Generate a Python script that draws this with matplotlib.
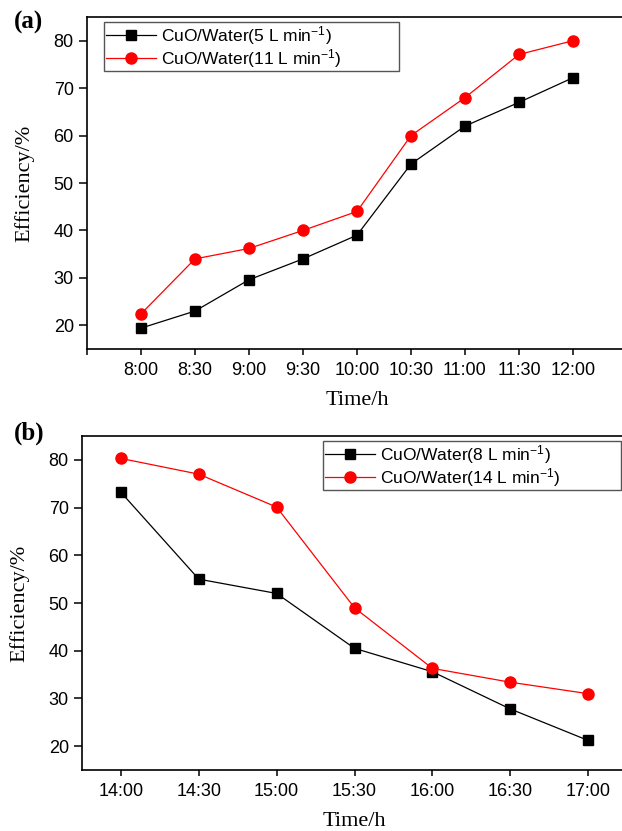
import numpy as np
import matplotlib.pyplot as plt

plt.rcParams['font.family'] = ['Liberation Sans', 'DejaVu Sans']
plt.rcParams['mathtext.default'] = 'regular'

# panel (a): morning
times_a = ["8:00", "8:30", "9:00", "9:30", "10:00", "10:30", "11:00", "11:30", "12:00"]
eff_5 = [19.4, 23.0, 29.6, 34.0, 39.0, 54.0, 62.0, 67.0, 72.2]
eff_11 = [22.4, 34.0, 36.2, 40.0, 44.0, 60.0, 68.0, 77.1, 80.0]

# panel (b): afternoon
times_b = ["14:00", "14:30", "15:00", "15:30", "16:00", "16:30", "17:00"]
eff_8 = [73.2, 55.0, 52.0, 40.5, 35.6, 27.8, 21.2]
eff_14 = [80.3, 77.0, 70.1, 49.0, 36.3, 33.4, 31.0]

W, H = 622, 831
fig = plt.figure(figsize=(W / 100, H / 100), dpi=100)

def box(l, t, r, b):
    return [l / W, 1 - b / H, (r - l) / W, (b - t) / H]

serif = ['Liberation Serif', 'DejaVu Serif']

def style(ax):
    for s in ax.spines.values():
        s.set_linewidth(1.2)
    ax.tick_params(axis='y', direction='out', length=5.5, width=1.1, pad=4, labelsize=13)
    ax.tick_params(axis='x', direction='out', length=4, width=1.1, pad=5, labelsize=13)
    ax.set_ylim(15, 85)
    ax.set_yticks([20, 30, 40, 50, 60, 70, 80])
    ax.set_ylabel("Efficiency/%", family=serif, fontsize=16, labelpad=14)
    ax.set_xlabel("Time/h", family=serif, fontsize=16, labelpad=9)

leg_kw = dict(loc='upper left', mode='expand', fancybox=False, edgecolor='#555555',
              framealpha=1, fontsize=12.5, handlelength=2.9, borderpad=0.1,
              labelspacing=0.0, handletextpad=0.3, borderaxespad=0)

# (a)
ax1 = fig.add_axes(box(87, 17, 627, 349))
xa = np.arange(len(times_a))
ax1.plot(xa, eff_5, color='black', lw=0.9, marker='s', ms=7.2, label="CuO/Water(5 L min$^{-1}$)")
ax1.plot(xa, eff_11, color='red', lw=0.9, marker='o', ms=8, label="CuO/Water(11 L min$^{-1}$)")
ax1.set_xlim(-1, 9)
ax1.set_xticks(np.arange(-1, 10))
ax1.set_xticklabels([""] + times_a + [""])
style(ax1)
ax1.legend(bbox_to_anchor=((104 - 87) / 540, (349 - 67) / 332, 295 / 540, 45 / 332), **leg_kw)
fig.text(14 / W, 1 - 22 / H, "(a)", family=serif, fontsize=18, fontweight='bold', va='center')

# (b)
ax2 = fig.add_axes(box(82, 436, 627, 770))
xb = np.arange(len(times_b))
ax2.plot(xb, eff_8, color='black', lw=0.9, marker='s', ms=7.2, label="CuO/Water(8 L min$^{-1}$)")
ax2.plot(xb, eff_14, color='red', lw=0.9, marker='o', ms=8, label="CuO/Water(14 L min$^{-1}$)")
ax2.set_xlim(-0.5, 6.5)
ax2.set_xticks(xb)
ax2.set_xticklabels(times_b)
style(ax2)
ax2.legend(bbox_to_anchor=((323 - 82) / 545, (770 - 486) / 334, 298 / 545, 45 / 334), **leg_kw)
fig.text(14 / W, 1 - 433 / H, "(b)", family=serif, fontsize=18, fontweight='bold', va='center')

fig.savefig("out.png", dpi=100)
